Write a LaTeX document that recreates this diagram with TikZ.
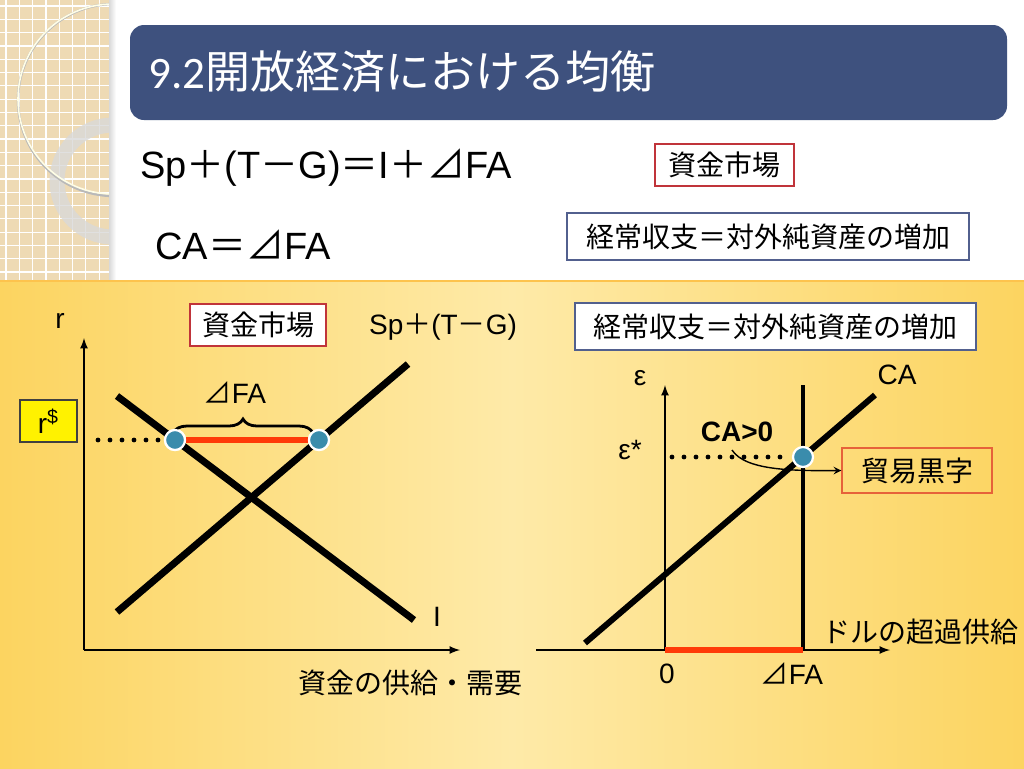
\documentclass[tikz,border=0pt]{standalone}
\usepackage{fontspec}
\setmainfont{Liberation Sans}
\newfontfamily\jpfont{Noto Sans CJK JP}
\newfontfamily\titlefont{Carlito}
\usetikzlibrary{positioning}
\usetikzlibrary{decorations.pathreplacing}

\definecolor{titleblue}{RGB}{62,81,126}
\definecolor{panelpale}{RGB}{254,234,168}
\definecolor{paneldeep}{RGB}{252,212,96}
\definecolor{stripbeige}{RGB}{238,218,180}
\definecolor{ptblue}{RGB}{58,140,172}
\definecolor{segred}{RGB}{255,58,8}
\definecolor{mktred}{RGB}{192,52,58}
\definecolor{caframe}{RGB}{82,96,142}
\definecolor{tradeframe}{RGB}{230,98,58}

\newcommand{\jp}[1]{{\jpfont #1}}

\tikzset{
  lbl/.style={font=\fontsize{14}{16}\selectfont, inner sep=0pt},
  eqn/.style={font=\fontsize{19}{22}\selectfont, anchor=west, inner sep=0pt},
  tagbox/.style={draw=#1, fill=white, line width=1.1pt, font=\fontsize{14}{16}\jpfont,
    inner sep=0pt, minimum height=21pt},
  curve/.style={line width=3.5pt},
  axis/.style={line width=0.8pt, -latex},
  dots/.style={line width=2.4pt, line cap=round, dash pattern=on 0pt off 6pt},
  ptdot/.style={circle, fill=ptblue, draw=white, line width=1.1pt, minimum size=10pt, inner sep=0pt},
}

\begin{document}
\begin{tikzpicture}[x=0.5pt,y=-0.5pt]
\useasboundingbox (0,0) rectangle (1024,768);

% backdrop
\fill[stripbeige] (0,0) rectangle (113,280);
\begin{scope}
\clip (0,0) rectangle (113,280);
\foreach \g in {0,1,...,21} {
  \draw[white,line width=0.6pt] (\g*13.3+6,0) -- (\g*13.3+6,280);
  \draw[white,line width=0.6pt] (0,\g*13.3+6) -- (113,\g*13.3+6);
}
\draw[gray!30,opacity=0.8,line width=7.5pt] (113,181) circle (56);
\draw[gray!55,line width=1.2pt] (114,100) circle (96);
\draw[white!90!yellow,line width=0.8pt] (113,99) circle (95);
\end{scope}
\fill[white] (113,0) rectangle (1024,280);
\shade[left color=gray!30,right color=white] (109,0) rectangle (116,280);
\fill[titleblue,rounded corners=7pt] (130,25) rectangle (1007,120);
\node[text=white,anchor=west,inner sep=0pt,font=\fontsize{22.5}{26}\selectfont] (title) at (148,72)
  {{\titlefont 9.2}\jp{開放経済における均衡}};

\node[eqn] (eqA) at (140,168) {Sp\jp{＋}(T\jp{－}G)\jp{＝}I\jp{＋⊿}FA};
\node[eqn] (eqB) at (155,245) {CA\jp{＝⊿}FA};
\node[tagbox=mktred,minimum width=69.5pt] (mktA) at (724.5,165) {資金市場};
\node[tagbox=caframe,minimum width=201pt,minimum height=23.5pt] (caA) at (768,236.5) {経常収支＝対外純資産の増加};

% yellow panel
\shade[left color=paneldeep,right color=paneldeep,middle color=panelpale] (0,280) rectangle (1024,768);
\draw[paneldeep!80!orange,line width=1pt] (0,281) -- (1024,281);

% left chart: loanable funds
\coordinate (O1) at (84,650);
\draw[axis] (O1) -- (84,338);
\draw[axis] (O1) -- (460,650);
\node[lbl] (r) at (60,321) {r};
\node[lbl] (qL) at (410,683) {\jp{資金の供給・需要}};
\node[tagbox=mktred,minimum width=68pt] (mktB) at (258,325) {資金市場};
\node[lbl] (sLbl) at (443,327) {Sp\jp{＋}(T\jp{－}G)};
\node[lbl] (iLbl) at (437,617) {I};

\node[ptdot] (pI) at (175,440) {};
\node[ptdot] (pS) at (319,440) {};
\draw[curve] (117,612) -- (408,364);
\draw[curve] (117,396) -- (414,620);
\draw[dots] (98,440) -- (160,440);
\draw[segred,line width=3pt] (pI) -- (pS);
\draw[line width=1.4pt,decorate,decoration={brace,amplitude=7pt}] (173,433) -- (313,433);
\node[lbl] (faL) at (235,393) {\jp{⊿}FA};
\node[ptdot] at (pI) {};
\node[ptdot] at (pS) {};
\node[draw=black!75,fill=yellow,line width=0.8pt,minimum width=28.5pt,minimum height=21pt,inner sep=0pt,
  font=\fontsize{14}{16}\selectfont] (rDollar) at (48.5,421) {r\textsuperscript{\$}};

% right chart: current account
\coordinate (O2) at (665,650);
\draw[axis] (O2) -- (665,385);
\draw[axis] (536,650) -- (890,650);
\node[tagbox=caframe,minimum width=200.5pt,minimum height=23.5pt] (caB) at (775.5,326.5) {経常収支＝対外純資産の増加};
\node[lbl] (eps) at (640,378) {ε};
\node[lbl] (epsStar) at (630,450) {ε*};
\node[lbl] (caLbl) at (897,375) {CA};
\node[lbl] (zero) at (667,674) {0};
\node[lbl] (faR) at (792,674) {\jp{⊿}FA};
\node[lbl] (qR) at (920,632) {\jp{ドルの超過供給}};

\draw[line width=3pt] (585,643) -- (875,395);
\draw[line width=2pt] (803,385) -- (803,651);
\draw[segred,line width=2.6pt] (O2) -- (803,650);
\draw[dots] (672,457) -- (790,457);
\node[ptdot] (pCA) at (803,457) {};
\node[lbl,font=\fontsize{14}{16}\selectfont\bfseries] (caPos) at (737,432) {CA>0};
\node[draw=tradeframe,line width=0.7pt,minimum width=75pt,minimum height=22.5pt,inner sep=0pt,
  font=\fontsize{14}{16}\jpfont] (trade) at (917,470.5) {貿易黒字};
\draw[-stealth,line width=0.7pt] (732,450) .. controls (745,470) and (790,471) .. (trade.west);

\end{tikzpicture}
\end{document}
